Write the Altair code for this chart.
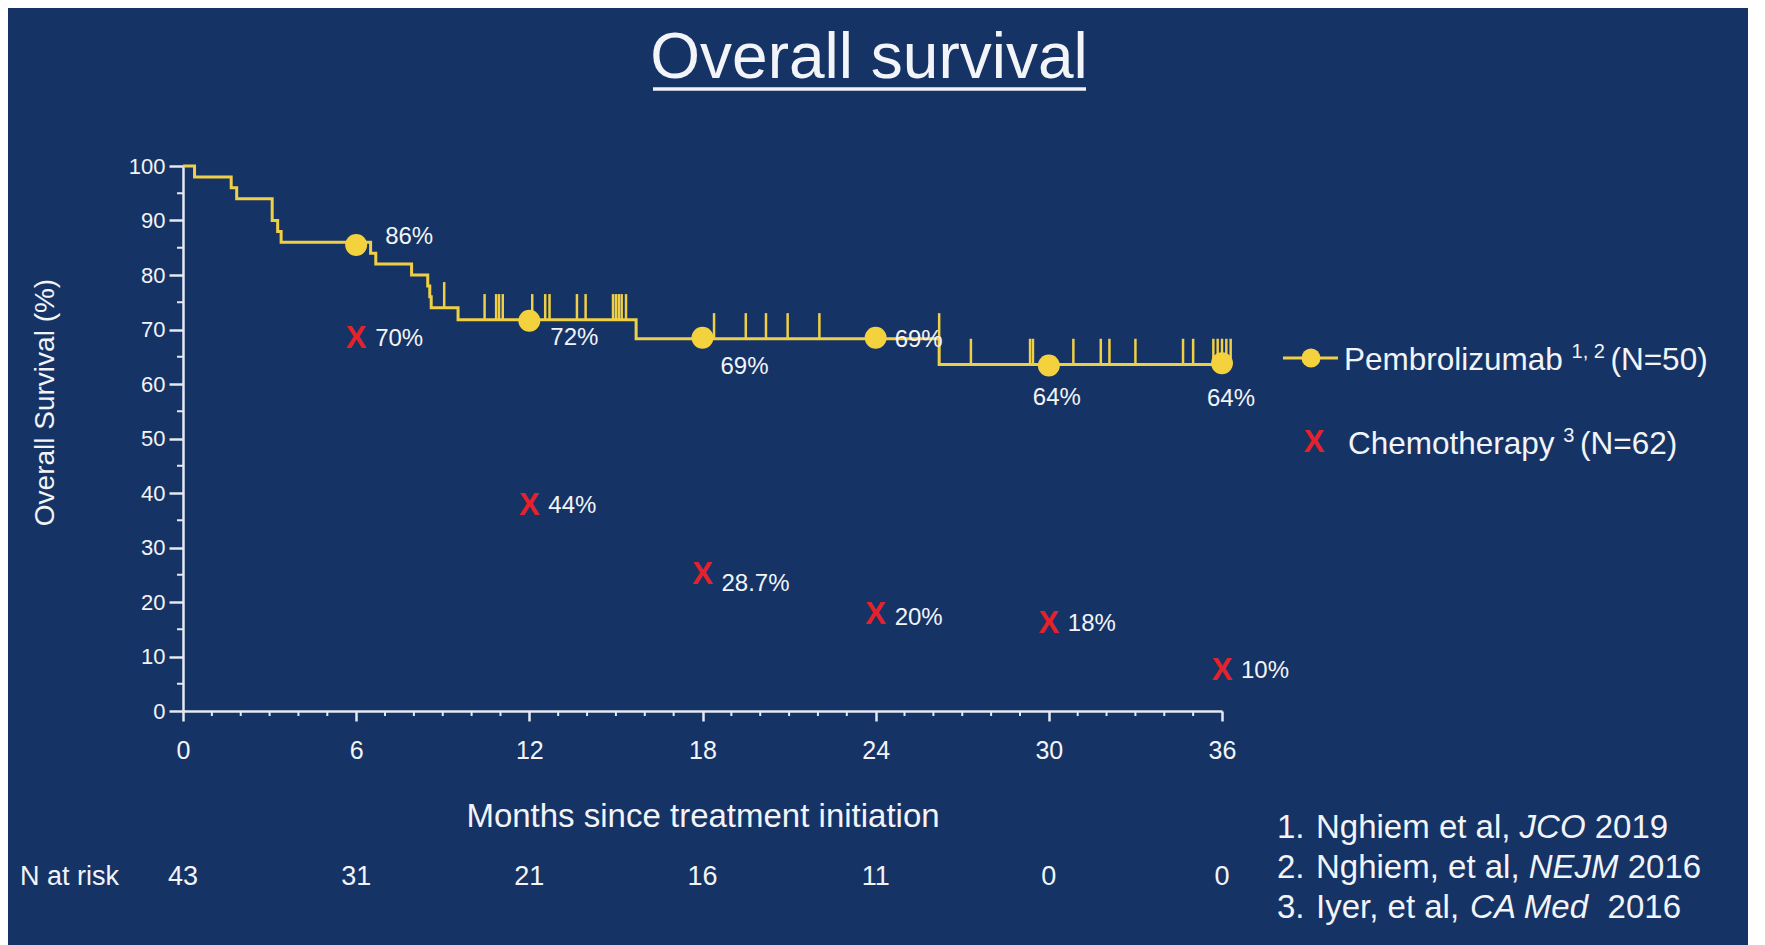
import altair as alt
import pandas as pd

# ---------------- data ----------------
# Pembrolizumab Kaplan-Meier step curve (month of each step, survival after it)
km_months = [0, 0.4, 1.67, 1.86, 3.09, 3.28, 3.4, 6.5, 6.68, 7.92, 8.48, 8.55, 8.6, 9.53, 15.7, 26.2, 36.3]
km_surv = [100, 98, 96, 94, 90, 88, 86, 84, 82, 80, 78, 76, 74, 71.8, 68.3, 63.6, 63.6]

# censoring marks (month, survival level they sit on)
censor_months = [9.05,
                 10.45, 10.85, 10.95, 11.08, 12.1, 12.55, 12.7, 13.65, 13.95, 14.9, 15.0, 15.1, 15.2, 15.35,
                 18.4, 19.5, 20.2, 20.95, 22.05, 26.2,
                 27.3, 29.35, 29.45, 30.85, 31.8, 32.1, 33.0, 34.65, 35.0, 35.7, 35.85, 36.0, 36.15, 36.3]
censor_surv = [74,
               71.8, 71.8, 71.8, 71.8, 71.8, 71.8, 71.8, 71.8, 71.8, 71.8, 71.8, 71.8, 71.8, 71.8,
               68.3, 68.3, 68.3, 68.3, 68.3, 68.3,
               63.6, 63.6, 63.6, 63.6, 63.6, 63.6, 63.6, 63.6, 63.6, 63.6, 63.6, 63.6, 63.6, 63.6]

landmark_months = [6, 12, 18, 24, 30, 36]
pembro_surv = [85.5, 71.6, 68.5, 68.5, 63.4, 63.8]
pembro_labels = ["86%", "72%", "69%", "69%", "64%", "64%"]
chemo_surv = [68.2, 37.7, 24.9, 17.7, 15.9, 7.4]
chemo_labels = ["70%", "44%", "28.7%", "20%", "18%", "10%"]

risk_months = [0, 6, 12, 18, 24, 30, 36]
n_at_risk = [43, 31, 21, 16, 11, 0, 0]

x_ticks = [0, 6, 12, 18, 24, 30, 36]
x_minor = [m for m in range(37) if m % 6 != 0]
y_ticks = [0, 10, 20, 30, 40, 50, 60, 70, 80, 90, 100]
y_minor = [5, 15, 25, 35, 45, 55, 65, 75, 85, 95]

references = [("1.", "Nghiem et al, ", "JCO", " 2019"),
              ("2.", "Nghiem, et al, ", "NEJM", " 2016"),
              ("3.", "Iyer, et al, ", "CA Med", "  2016")]

# ---------------- styling ----------------
BG = "#163366"
YEL = "#efcf45"
DOT = "#f4d23e"
RED = "#e5222b"
WHITE = "#f2f4f8"
AXC = "#e4e9f2"
FONT = "Liberation Sans"

W, H = 1039, 545
PAD = {"left": 175, "top": 158, "right": 526, "bottom": 234}
CENSOR_H = 4.7

# Arial / Liberation Sans advance widths (per 1000 em) for placing text segments
AW = {" ": 278, "(": 333, ")": 333, ",": 278, ".": 278, "=": 584, "%": 889,
      "A": 667, "C": 722, "E": 667, "I": 278, "J": 500, "M": 833, "N": 722, "O": 778, "P": 667,
      "a": 556, "b": 556, "c": 500, "d": 556, "e": 556, "g": 556, "h": 556, "i": 222, "l": 222,
      "m": 833, "o": 556, "p": 556, "r": 333, "t": 278, "u": 556, "y": 500, "z": 500}


def tw(s, size):
    return sum(AW.get(c, 556) for c in s) * size / 1000.0


xs = alt.Scale(domain=[0, 36], nice=False, zero=False)
ys = alt.Scale(domain=[0, 100], nice=False, zero=False)

x_axis = alt.Axis(values=x_ticks, title="Months since treatment initiation", grid=False,
                  labelFontSize=25, labelPadding=17, labelFont=FONT, labelColor=WHITE, labelFlush=False,
                  tickSize=10, tickWidth=2.5, tickColor=AXC, domainColor=AXC, domainWidth=2.5,
                  titleFont=FONT, titleFontSize=33, titleFontWeight="normal", titleColor=WHITE,
                  titleY=115, titleBaseline="alphabetic")
y_axis = alt.Axis(values=y_ticks, title="Overall Survival (%)", grid=False,
                  labelFontSize=22, labelPadding=4, labelFont=FONT, labelColor=WHITE,
                  tickSize=14, tickWidth=2.5, tickColor=AXC, domainColor=AXC, domainWidth=2.5,
                  titleFont=FONT, titleFontSize=28, titleFontWeight="normal", titleColor=WHITE,
                  titleX=-138, titleY=236, titleAngle=270, titleBaseline="middle", titleAlign="center")


def X(field):
    return alt.X(field, scale=xs, axis=x_axis)


def Y(field):
    return alt.Y(field, scale=ys, axis=y_axis)


def txt(s, x, y, size, align="left", baseline="alphabetic", italic=False, color=WHITE, weight="normal"):
    return alt.Chart(pd.DataFrame({"t": [s]})).mark_text(
        align=align, baseline=baseline, fontSize=size, font=FONT,
        fontStyle="italic" if italic else "normal", color=color, fontWeight=weight
    ).encode(x=alt.value(x), y=alt.value(y), text="t:N")


layers = []

# KM curve
km_df = pd.DataFrame({"month": km_months, "surv": km_surv})
layers.append(alt.Chart(km_df).mark_line(interpolate="step-after", color=YEL, strokeWidth=3).encode(
    x=X("month:Q"), y=Y("surv:Q")))

# censor ticks
cen_df = pd.DataFrame({"month": censor_months, "surv": censor_surv})
cen_df["top"] = cen_df["surv"] + CENSOR_H
layers.append(alt.Chart(cen_df).mark_rule(color=YEL, strokeWidth=2.5).encode(
    x=X("month:Q"), y=Y("surv:Q"), y2="top:Q"))

# minor axis ticks
layers.append(alt.Chart(pd.DataFrame({"v": y_minor})).mark_rule(color=AXC, strokeWidth=2).encode(
    y=Y("v:Q"), x=alt.value(-6), x2=alt.value(0)))
layers.append(alt.Chart(pd.DataFrame({"v": x_minor})).mark_rule(color=AXC, strokeWidth=2).encode(
    x=X("v:Q"), y=alt.value(H), y2=alt.value(H + 5)))

# pembrolizumab landmark dots + labels
pdf = pd.DataFrame({"month": landmark_months, "surv": pembro_surv, "lab": pembro_labels})
layers.append(alt.Chart(pdf).mark_circle(size=480, color=DOT, opacity=1).encode(
    x=X("month:Q"), y=Y("surv:Q")))
pembro_offsets = [(53, -8), (45, 17), (42, 29), (43, 2), (8, 33), (9, 36)]
for i, (dx, dy) in enumerate(pembro_offsets):
    layers.append(alt.Chart(pdf.iloc[[i]]).mark_text(
        fontSize=24, font=FONT, color=WHITE, dx=dx, dy=dy, baseline="middle", align="center").encode(
        x=X("month:Q"), y=Y("surv:Q"), text="lab:N"))

# chemotherapy X marks + labels
cdf = pd.DataFrame({"month": landmark_months, "surv": chemo_surv, "lab": chemo_labels})
layers.append(alt.Chart(cdf).mark_text(fontSize=31, font=FONT, fontWeight="bold", color=RED,
                                       baseline="middle", align="center").encode(
    x=X("month:Q"), y=Y("surv:Q"), text=alt.value("X")))
chemo_dy = [0, 0, 9, 3, 0, 0]
for i, dy in enumerate(chemo_dy):
    layers.append(alt.Chart(cdf.iloc[[i]]).mark_text(
        fontSize=24, font=FONT, color=WHITE, dx=19, dy=dy, baseline="middle", align="left").encode(
        x=X("month:Q"), y=Y("surv:Q"), text="lab:N"))

# number at risk row
rdf = pd.DataFrame({"month": risk_months, "n": n_at_risk})
layers.append(alt.Chart(rdf).mark_text(fontSize=27, font=FONT, color=WHITE, baseline="middle", align="center").encode(
    x=X("month:Q"), y=alt.value(711), text="n:N"))
layers.append(txt("N at risk", -163, 711, 27, baseline="middle"))

# title with underline
layers.append(txt("Overall survival", 686, -88, 64, align="center"))
layers.append(alt.Chart(pd.DataFrame({"a": [0]})).mark_rule(color=WHITE, strokeWidth=3.5).encode(
    x=alt.value(470), x2=alt.value(903), y=alt.value(-77)))

# legend
LS = 31.5
SS = 20
lx, ly1, ly2 = 1161, 204, 288
layers.append(alt.Chart(pd.DataFrame({"a": [0]})).mark_rule(color=YEL, strokeWidth=3).encode(
    x=alt.value(1100), x2=alt.value(1155), y=alt.value(192)))
layers.append(alt.Chart(pd.DataFrame({"a": [0]})).mark_circle(size=360, color=DOT, opacity=1).encode(
    x=alt.value(1128), y=alt.value(192)))
layers.append(txt("Pembrolizumab", lx, ly1, LS))
sx = lx + tw("Pembrolizumab ", LS)
layers.append(txt("1, 2", sx, ly1 - 12, SS))
layers.append(txt("(N=50)", sx + tw("1, 2 ", SS), ly1, LS))
layers.append(txt("X", 1131, ly2 - 11, 31, align="center", baseline="middle", color=RED, weight="bold"))
layers.append(txt("Chemotherapy", lx + 4, ly2, LS))
sx2 = lx + 4 + tw("Chemotherapy ", LS)
layers.append(txt("3", sx2, ly2 - 12, SS))
layers.append(txt("(N=62)", sx2 + tw("3 ", SS), ly2, LS))

# references
RS = 33
rx_num, rx_txt = 1094, 1133
for k, (num, pre, ital, post) in enumerate(references):
    by = 672 + 40 * k
    layers.append(txt(num, rx_num, by, RS))
    layers.append(txt(pre, rx_txt, by, RS))
    ix = rx_txt + tw(pre, RS)
    layers.append(txt(ital, ix, by, RS, italic=True))
    layers.append(txt(post.strip(), ix + tw(ital + post[:len(post) - len(post.lstrip())], RS), by, RS))

chart = alt.layer(*layers).properties(
    width=W, height=H,
    autosize=alt.AutoSizeParams(type="none"),
    padding=PAD,
).configure(background=BG).configure_view(strokeWidth=0)

chart.save("out.html", embed_options={"renderer": "svg", "actions": False})
